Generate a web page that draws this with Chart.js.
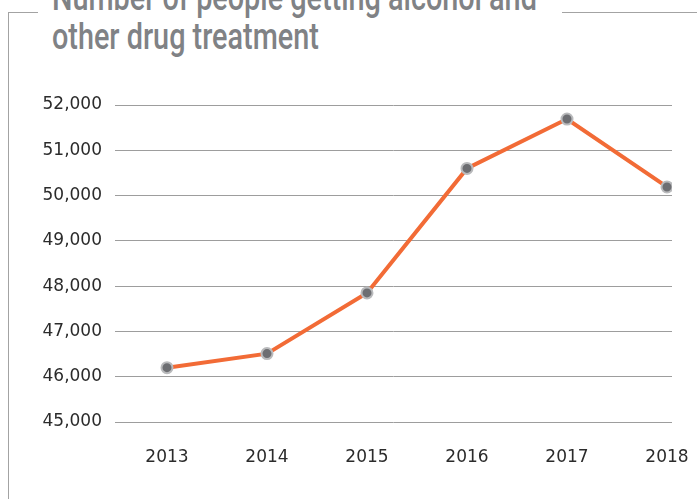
<!DOCTYPE html>
<html>
<head>
<meta charset="utf-8">
<script src="https://cdn.jsdelivr.net/npm/chart.js@4/dist/chart.umd.min.js"></script>
<style>
  html, body { margin: 0; padding: 0; background: #fff; overflow: hidden; }
  #wrap { position: relative; width: 697px; height: 499px; }
  #wrap canvas { position: absolute; left: 0; top: 0; }
  .rule { position: absolute; background: #a3a3a3; }
  #title {
    position: absolute; left: 52px; top: -21px; margin: 0;
    font-family: Roboto, "Liberation Sans", sans-serif; font-weight: 500;
    font-size: 36px; line-height: 39px; color: #808285;
    white-space: nowrap; transform: scaleX(0.8); transform-origin: 0 0;
  }
</style>
</head>
<body>
<div id="wrap">
  <div class="rule" style="left:8px; top:12px; width:1px; height:487px;"></div>
  <div class="rule" style="left:8px; top:12px; width:30px; height:1px;"></div>
  <div class="rule" style="left:562px; top:12px; width:135px; height:1px;"></div>
  <h1 id="title">Number of people getting alcohol and<br>other drug treatment</h1>
  <canvas id="treatChart" width="697" height="499"></canvas>
</div>
<script>
// people in alcohol and other drug treatment, per year
const years = [2013, 2014, 2015, 2016, 2017, 2018];
const people = [46200, 46510, 47850, 50600, 51690, 50190];
const yTicks = [45000, 46000, 47000, 48000, 49000, 50000, 51000, 52000];

const ctx = document.getElementById('treatChart');
new Chart(ctx, {
    type: 'line',
    data: {
        datasets: [{
            data: years.map((y, i) => ({ x: y, y: people[i] })),
            borderColor: '#f26b36',
            borderWidth: 4,
            tension: 0,
            pointRadius: 5.5,
            pointBorderWidth: 2,
            pointBackgroundColor: '#6d6e72',
            pointBorderColor: '#b9babc'
        }]
    },
    options: {
        responsive: false,
        animation: false,
        layout: { autoPadding: false, padding: { top: 105, right: 25, left: 0, bottom: 0 } },
        plugins: {
            legend: { display: false },
            tooltip: { enabled: false }
        },
        scales: {
            x: {
                type: 'linear',
                min: 2012.48,
                max: 2018.05,
                afterBuildTicks: axis => { axis.ticks = years.map(v => ({ value: v })); },
                afterFit: axis => {
                    axis.height = 77;
                    // year labels may hang past the plot edge
                    axis.paddingLeft = 0;
                    axis.paddingRight = 0;
                },
                grid: { display: false, drawTicks: false },
                border: { display: false },
                ticks: {
                    padding: 25,
                    color: '#2b2b2b',
                    font: { family: 'DejaVu Sans', size: 17 },
                    callback: v => String(v)
                }
            },
            y: {
                min: yTicks[0],
                max: yTicks[yTicks.length - 1],
                afterBuildTicks: axis => { axis.ticks = yTicks.map(v => ({ value: v })); },
                afterFit: axis => { axis.width = 115; },
                grid: { color: '#9d9d9d', lineWidth: 1, drawTicks: false },
                border: { display: false },
                ticks: {
                    padding: 13,
                    color: '#2b2b2b',
                    font: { family: 'DejaVu Sans', size: 17 },
                    callback: v => v.toLocaleString('en-US')
                }
            }
        }
    }
});
</script>
</body>
</html>
